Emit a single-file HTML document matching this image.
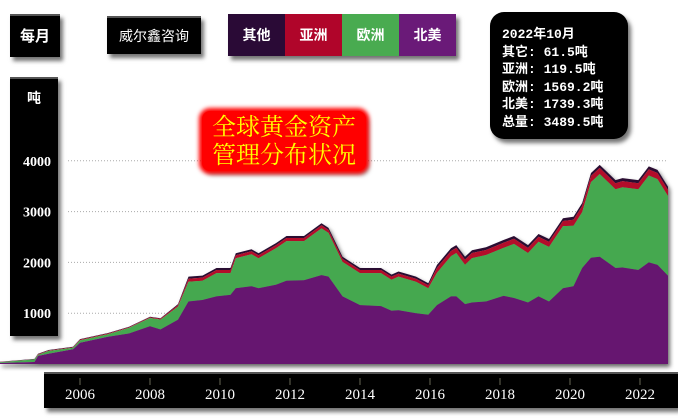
<!DOCTYPE html>
<html><head><meta charset="utf-8"><style>
body{margin:0;width:678px;height:418px;background:#fff;overflow:hidden;position:relative;font-family:"Liberation Sans","Noto Sans CJK SC",sans-serif}
.box{position:absolute;background:#000;color:#fff;box-shadow:3px 4px 4px rgba(0,0,0,.55);border-top:2px solid #555}
</style></head><body>
<div class="box" style="left:10px;top:14px;width:50px;height:41px;line-height:41px;text-align:center;font-size:15px;font-weight:bold">每月</div>
<div class="box" style="left:107px;top:16px;width:94px;height:36px;line-height:36px;text-align:center;font-size:14px">威尔鑫咨询</div>
<div class="box" style="left:228px;top:14px;width:228px;height:42px;display:flex;font-size:14px;font-weight:bold;border-top:none">
<div style="flex:1;background:#2a0a36;text-align:center;line-height:42px">其他</div>
<div style="flex:1;background:#b0052a;text-align:center;line-height:42px">亚洲</div>
<div style="flex:1;background:#49ab50;text-align:center;line-height:42px">欧洲</div>
<div style="flex:1;background:#6a1a78;text-align:center;line-height:42px">北美</div>
</div>
<div class="box" style="left:490px;top:12px;width:138px;height:127px;border-radius:14px;font-family:'Liberation Mono','Noto Sans CJK SC',monospace;font-size:13px;font-weight:bold;line-height:17.5px;padding:14px 0 0 12px;box-sizing:border-box;border-top:none">2022年10月<br>其它: 61.5吨<br>亚洲: 119.5吨<br>欧洲: 1569.2吨<br>北美: 1739.3吨<br>总量: 3489.5吨</div>
<div class="box" style="left:10px;top:77px;width:48px;height:257px"></div>
<div style="position:absolute;left:10px;top:88px;width:48px;text-align:center;color:#fff;font-size:14px;font-weight:bold">吨</div>
<div class="box" style="left:44px;top:372px;width:634px;height:34px"></div>
<svg width="678" height="418" style="position:absolute;left:0;top:0">
<defs><filter id="sh" x="-5%" y="-5%" width="110%" height="110%"><feDropShadow dx="2" dy="3" stdDeviation="2" flood-color="#000" flood-opacity="0.6"/></filter>
<filter id="bl"><feGaussianBlur stdDeviation="2.5"/></filter></defs>
<g id="grid"></g><g id="areas" filter="url(#sh)"></g><g id="ticks"></g>
</svg>
<div style="position:absolute;left:202px;top:111px;width:164px;height:60px;background:#f00;border-radius:8px;box-shadow:0 0 4px 3px #f00,3px 4px 5px rgba(0,0,0,.4);color:#ff0;font-family:'Liberation Serif','Noto Serif CJK SC',serif;font-size:24px;line-height:28px;text-align:center;padding-top:3px;box-sizing:border-box">全球黄金资产<br>管理分布状况</div>
<script>
const years=[2003.71,2004.7,2004.8,2005.1,2005.8,2006.0,2006.8,2007.4,2008.0,2008.3,2008.8,2009.1,2009.5,2009.9,2010.3,2010.45,2010.9,2011.1,2011.6,2011.9,2012.4,2012.9,2013.1,2013.5,2014.0,2014.6,2014.9,2015.1,2015.6,2015.95,2016.2,2016.6,2016.75,2017.0,2017.2,2017.6,2018.1,2018.4,2018.8,2019.1,2019.4,2019.8,2020.1,2020.35,2020.6,2020.85,2021.3,2021.5,2021.95,2022.25,2022.5,2022.8];
const northAmerica=[20,40,160,200,290,420,536,600,742,680,870,1230,1260,1330,1360,1490,1530,1490,1560,1640,1650,1750,1720,1330,1160,1140,1050,1060,1000,970,1160,1330,1330,1180,1210,1230,1340,1300,1210,1330,1230,1490,1530,1890,2090,2110,1890,1900,1850,2000,1950,1739];
const europe=[15,50,20,55,30,45,49,110,163,195,260,390,380,460,430,590,630,590,720,780,770,920,860,680,630,650,610,660,620,520,635,795,855,775,875,915,945,1065,975,1075,1075,1225,1190,1100,1490,1630,1550,1580,1590,1710,1690,1569];
const asia=[5,5,10,10,10,15,15,15,15,15,30,60,60,60,60,60,60,60,60,60,60,60,60,60,60,60,60,60,60,60,100,100,100,100,100,100,100,100,100,100,100,100,120,120,120,120,120,120,120,120,120,119.5];
const other=[5,5,10,10,10,10,10,10,10,10,20,40,40,40,40,40,40,40,40,40,40,40,40,40,40,40,40,40,40,40,55,55,55,55,55,55,55,55,55,55,55,55,60,60,60,60,60,60,60,60,60,61.5];
const yTicks=[1000,2000,3000,4000];
const xTicks=[2006,2008,2010,2012,2014,2016,2018,2020,2022];
const X=y=>80+(y-2006)*35, Y=v=>364-v*0.0508;
const NS="http://www.w3.org/2000/svg";
function mk(tag,attrs,parent){const e=document.createElementNS(NS,tag);for(const k in attrs)e.setAttribute(k,attrs[k]);parent.appendChild(e);return e;}
const grid=document.getElementById('grid'),areas=document.getElementById('areas'),ticks=document.getElementById('ticks');
yTicks.forEach(t=>{
 const l=mk('line',{x1:68,x2:668,y1:Y(t),y2:Y(t),stroke:'#aaa','stroke-dasharray':'1,2','stroke-width':1},grid);
 
 
 const tx=mk('text',{x:37,y:Y(t)+5,fill:'#fff','font-size':14,'font-weight':'bold','text-anchor':'middle','font-family':'Liberation Serif,serif'},ticks);
 tx.textContent=t;
 
 
});
xTicks.forEach(t=>{
 const l=mk('line',{x1:X(t),x2:X(t),y1:378,y2:385,stroke:'#665',"stroke-width":1},ticks);
 
 
 const tx=mk('text',{x:X(t),y:399,fill:'#fff','font-size':15,'text-anchor':'middle','font-family':'Liberation Serif,serif'},ticks);
 tx.textContent=t;
 
 
});
const series=[[northAmerica,'#661270','north-america'],[europe,'#45a84f','europe'],[asia,'#b3102c','asia'],[other,'#2a0a30','other']];
let base=years.map(()=>0);const layers=[];
series.forEach(([arr,c,n])=>{const top=base.map((b,i)=>b+arr[i]);layers.push([base,top,c,n]);base=top;});
layers.reverse().forEach(([b,t,c,n])=>{
 let d='M'+X(years[0])+','+Y(t[0]);
 for(let i=1;i<years.length;i++)d+='L'+X(years[i]).toFixed(1)+','+Y(t[i]).toFixed(1);
 for(let i=years.length-1;i>=0;i--)d+='L'+X(years[i]).toFixed(1)+','+Y(b[i]).toFixed(1);
 const p=mk('path',{d:d+'Z',fill:c},areas);
 
 
});
</script>
</body></html>
